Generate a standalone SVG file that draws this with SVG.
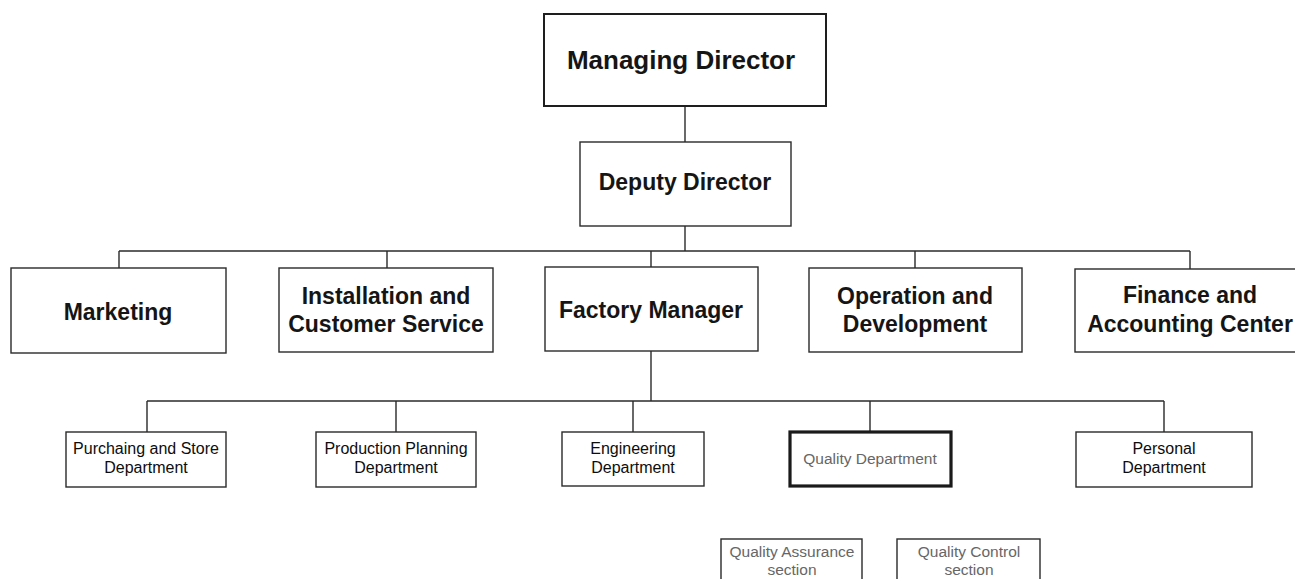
<svg xmlns="http://www.w3.org/2000/svg" width="1295" height="579" viewBox="0 0 1295 579">
<style>
.bg{fill:#ffffff}
.box{fill:#ffffff;stroke:#2a2a2a;stroke-width:1.4}
.top{fill:#ffffff;stroke:#1e1e1e;stroke-width:2}
.thick{fill:#ffffff;stroke:#1a1a1a;stroke-width:3.2}
.ln{fill:none;stroke:#2a2a2a;stroke-width:1.4}
.t1{font-family:"Liberation Sans",Arial,sans-serif;font-weight:bold;font-size:26px;fill:#151515;text-anchor:middle}
.t2{font-family:"Liberation Sans",Arial,sans-serif;font-weight:bold;font-size:23px;fill:#151515;text-anchor:middle}
.t3{font-family:"Liberation Sans",Arial,sans-serif;font-size:16px;fill:#0d0d0d;text-anchor:middle}
.tg{font-family:"Liberation Sans",Arial,sans-serif;font-size:15.5px;fill:#666666;text-anchor:middle}
</style>
<rect class="bg" x="0" y="0" width="1295" height="579"/>
<g id="connectors">
<path class="ln" d="M685,106 V142"/>
<path class="ln" d="M685,226 V251"/>
<path class="ln" d="M119,251 H1190"/>
<path class="ln" d="M119,251 V268 M387,251 V268 M651,251 V267 M915,251 V268 M1190,251 V269"/>
<path class="ln" d="M651,351 V401"/>
<path class="ln" d="M147,401 H1164"/>
<path class="ln" d="M147,401 V432 M396,401 V432 M633,401 V432 M870,401 V432 M1164,401 V432"/>
</g>
<g id="managing-director">
<rect class="top" x="544" y="14" width="282" height="92"/>
<text class="t1" x="681" y="69">Managing Director</text>
</g>
<g id="deputy-director">
<rect class="box" x="580" y="142" width="211" height="84"/>
<text class="t2" x="685" y="190">Deputy Director</text>
</g>
<g id="marketing">
<rect class="box" x="11" y="268" width="215" height="85"/>
<text class="t2" x="118" y="320">Marketing</text>
</g>
<g id="installation">
<rect class="box" x="279" y="268" width="214" height="84"/>
<text class="t2" x="386" y="304">Installation and</text>
<text class="t2" x="386" y="332">Customer Service</text>
</g>
<g id="factory-manager">
<rect class="box" x="545" y="267" width="213" height="84"/>
<text class="t2" x="651" y="318">Factory Manager</text>
</g>
<g id="operation">
<rect class="box" x="809" y="268" width="213" height="84"/>
<text class="t2" x="915" y="304">Operation and</text>
<text class="t2" x="915" y="332">Development</text>
</g>
<g id="finance">
<rect class="box" x="1075" y="269" width="240" height="83"/>
<text class="t2" x="1190" y="303">Finance and</text>
<text class="t2" x="1190" y="332">Accounting Center</text>
</g>
<g id="purchasing">
<rect class="box" x="66" y="432" width="160" height="55"/>
<text class="t3" x="146" y="454">Purchaing and Store</text>
<text class="t3" x="146" y="473">Department</text>
</g>
<g id="production-planning">
<rect class="box" x="316" y="432" width="160" height="55"/>
<text class="t3" x="396" y="454">Production Planning</text>
<text class="t3" x="396" y="473">Department</text>
</g>
<g id="engineering">
<rect class="box" x="562" y="432" width="142" height="54"/>
<text class="t3" x="633" y="454">Engineering</text>
<text class="t3" x="633" y="473">Department</text>
</g>
<g id="quality-department">
<rect class="thick" x="790" y="432" width="161" height="54"/>
<text class="tg" x="870" y="464">Quality Department</text>
</g>
<g id="personal">
<rect class="box" x="1076" y="432" width="176" height="55"/>
<text class="t3" x="1164" y="454">Personal</text>
<text class="t3" x="1164" y="473">Department</text>
</g>
<g id="quality-assurance">
<rect class="box" x="721" y="539" width="141" height="60"/>
<text class="tg" x="792" y="557">Quality Assurance</text>
<text class="tg" x="792" y="575">section</text>
</g>
<g id="quality-control">
<rect class="box" x="897" y="539" width="143" height="60"/>
<text class="tg" x="969" y="557">Quality Control</text>
<text class="tg" x="969" y="575">section</text>
</g>
</svg>
